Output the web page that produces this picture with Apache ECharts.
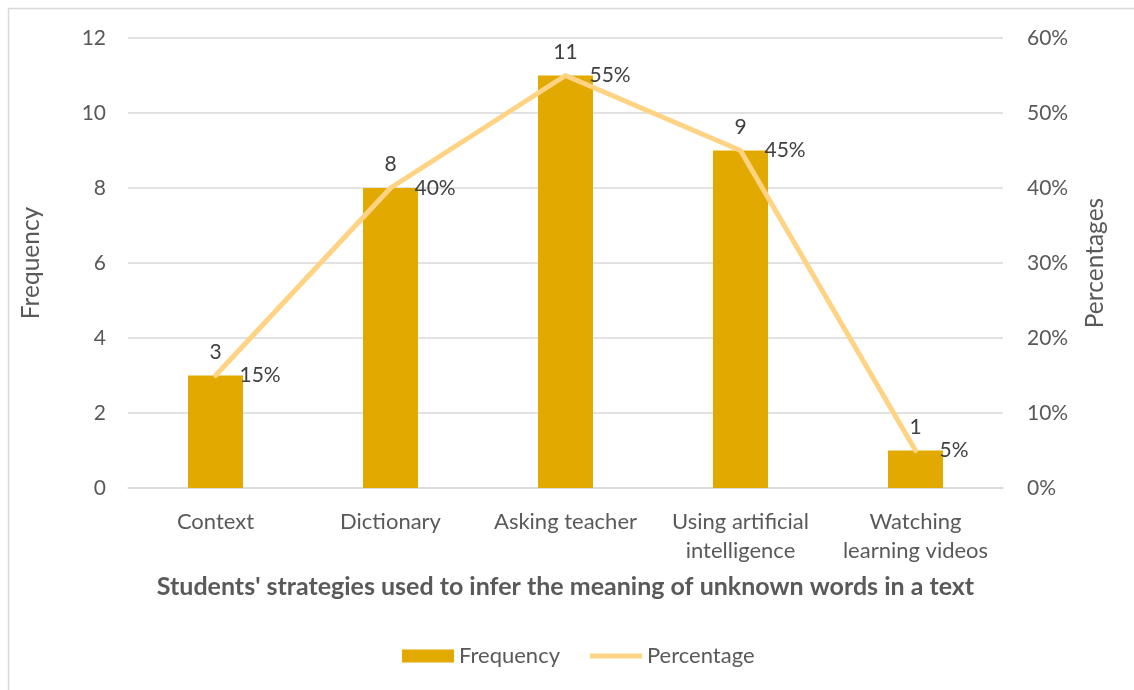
<!DOCTYPE html>
<html>
<head>
<meta charset="utf-8">
<script src="https://cdn.jsdelivr.net/npm/echarts@6/dist/echarts.min.js"></script>
<style>
html,body{margin:0;padding:0;background:#fff;}
#chart{width:1134px;height:690px;}
</style>
</head>
<body>
<div id="chart"></div>
<script>
const categories = ["Context", "Dictionary", "Asking teacher", "Using artificial\nintelligence", "Watching\nlearning videos"];
const frequency = [3, 8, 11, 9, 1];
const percentage = [15, 40, 55, 45, 5];
const leftTicks = { min: 0, max: 12, interval: 2 };
const rightTicks = { min: 0, max: 60, interval: 10 };

const font = "Lato, 'Open Sans', sans-serif";
const txt = '#595959';
const lineColor = '#FFD383';
const chart = echarts.init(document.getElementById('chart'), null, {renderer: 'canvas'});
chart.setOption({
  backgroundColor: '#fff',
  animation: false,
  textStyle: { fontFamily: font },
  graphic: [{
    type: 'rect', shape: { x: 8.5, y: 8.5, width: 1200, height: 800 },
    style: { fill: 'none', stroke: '#D9D9D9', lineWidth: 1.5 }, silent: true, z: -10
  }],
  grid: { left: 128, right: 131, top: 38, bottom: 202 },
  legend: {
    bottom: 18, left: 397, itemGap: 30, itemWidth: 52, itemHeight: 13,
    textStyle: { color: txt, fontSize: 22, fontFamily: font },
    data: [
      { name: 'Frequency', icon: 'rect' },
      { name: 'Percentage', icon: 'path://M0,4 L52,4 L52,9 L0,9 Z', itemStyle: { color: lineColor, opacity: 1 } }
    ]
  },
  xAxis: {
    type: 'category', data: categories,
    name: "Students' strategies used to infer the meaning of unknown words in a text",
    nameLocation: 'middle', nameGap: 86,
    nameTextStyle: { color: txt, fontSize: 25, fontWeight: 'bold', fontFamily: font },
    axisLine: { lineStyle: { color: '#D9D9D9', width: 1.5 } },
    axisTick: { show: false },
    axisLabel: { color: txt, fontSize: 22, margin: 19, lineHeight: 29, interval: 0, fontFamily: font }
  },
  yAxis: [{
    type: 'value', min: leftTicks.min, max: leftTicks.max, interval: leftTicks.interval,
    name: 'Frequency', nameLocation: 'middle', nameGap: 84, nameRotate: 90,
    nameTextStyle: { color: txt, fontSize: 24.5, fontFamily: font },
    axisLabel: { color: txt, fontSize: 21, margin: 22, fontFamily: font },
    splitLine: { lineStyle: { color: '#D9D9D9', width: 1.5 } },
    axisLine: { show: false }, axisTick: { show: false }
  }, {
    type: 'value', min: rightTicks.min, max: rightTicks.max, interval: rightTicks.interval,
    name: 'Percentages', nameLocation: 'middle', nameGap: 80, nameRotate: 90,
    nameTextStyle: { color: txt, fontSize: 24.5, fontFamily: font },
    axisLabel: { color: txt, fontSize: 21, margin: 24, formatter: '{value}%', fontFamily: font },
    splitLine: { show: false },
    axisLine: { show: false }, axisTick: { show: false }
  }],
  series: [{
    name: 'Frequency', type: 'bar', data: frequency, barWidth: 55,
    itemStyle: { color: '#E2AA00' },
    label: { show: true, position: 'top', distance: 13, color: '#404040', fontSize: 21, fontFamily: font }
  }, {
    name: 'Percentage', type: 'line', yAxisIndex: 1, data: percentage,
    symbol: 'circle', symbolSize: 2, showSymbol: true,
    lineStyle: { color: lineColor, width: 5, cap: 'round', join: 'round' },
    itemStyle: { color: lineColor },
    label: { show: true, position: 'right', offset: [0, 1], distance: 23, color: '#404040', fontSize: 21, formatter: '{c}%', fontFamily: font },
    labelLayout: { hideOverlap: false },
    z: 3
  }]
});
</script>
</body>
</html>
